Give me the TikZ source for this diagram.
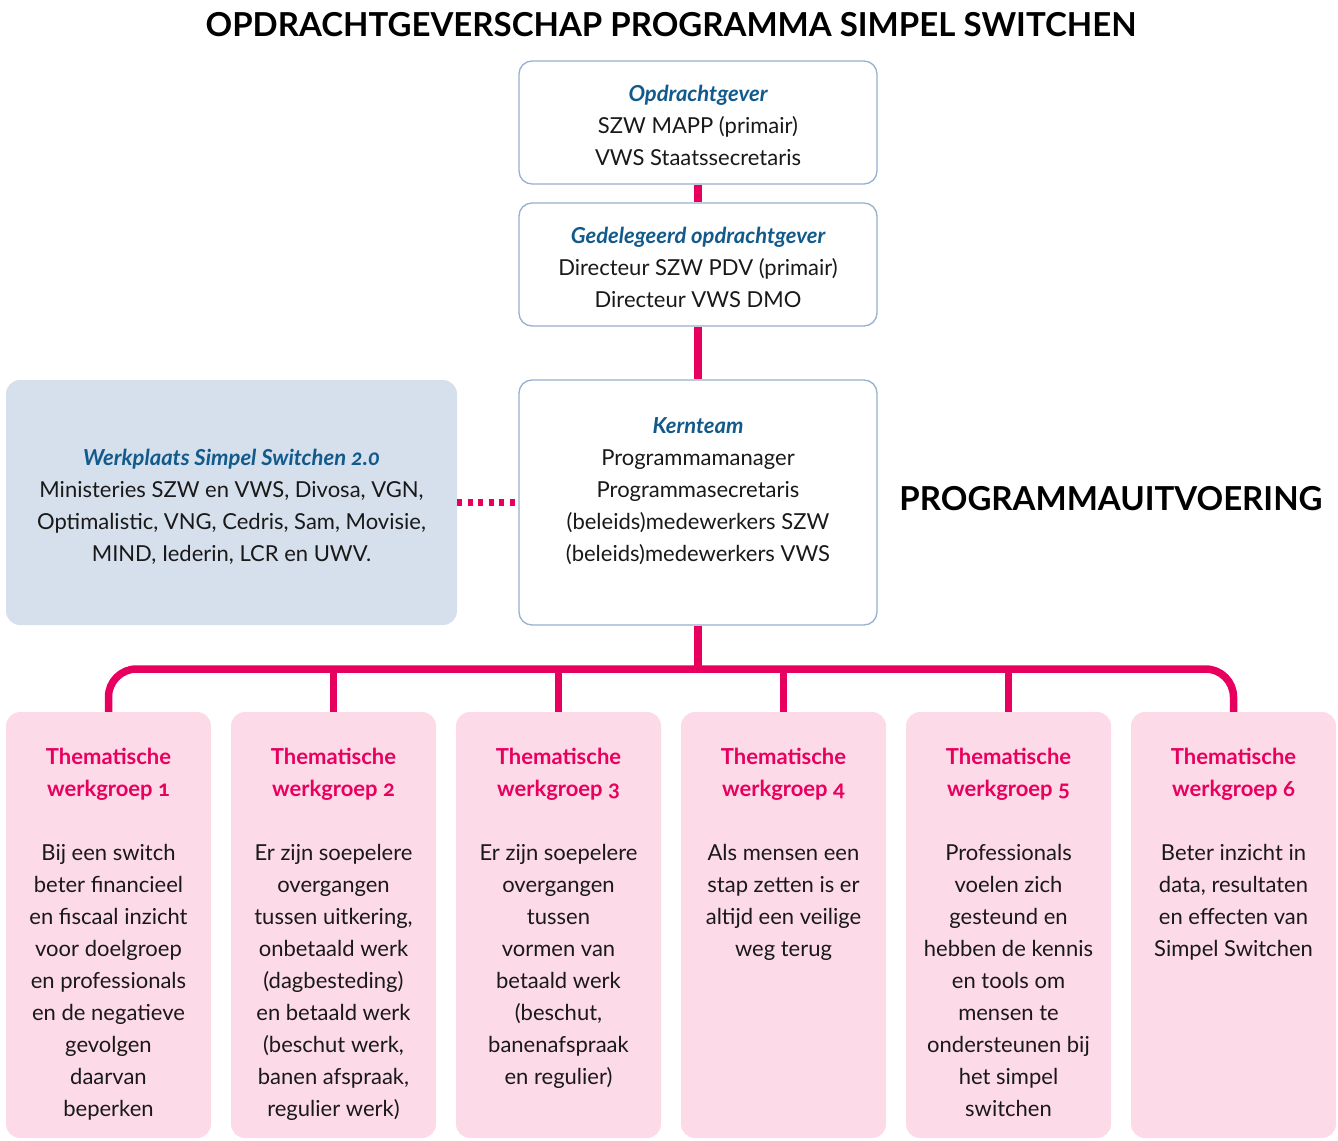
\documentclass[tikz,border=0pt]{standalone}
\usepackage{fontspec}
\setmainfont{Lato}[Numbers=OldStyle]
\definecolor{pinkc}{RGB}{232,0,94}
\definecolor{pinkfill}{RGB}{253,218,231}
\definecolor{bluec}{RGB}{18,90,140}
\definecolor{bordc}{RGB}{150,176,208}
\definecolor{werkfill}{RGB}{214,224,236}
\definecolor{txt}{RGB}{25,25,25}
\newcommand{\wgA}{\textcolor{pinkc}{\bfseries Thematische}}
\newcommand{\wgB}[1]{\textcolor{pinkc}{\bfseries werkgroep #1}}
\begin{document}
\begin{tikzpicture}[x=1pt,y=-1pt,
  wbox/.style={draw=bordc,line width=1.3pt,rounded corners=13pt,fill=white,inner sep=0pt,minimum width=358pt},
  gbox/.style={fill=werkfill,rounded corners=14pt,inner sep=0pt,minimum width=451pt,minimum height=245pt},
  pbox/.style={fill=pinkfill,rounded corners=14pt,inner sep=0pt,minimum width=205pt,minimum height=426pt},
  body/.style={align=center,inner sep=0pt,text=txt,font=\fontsize{22}{32}\selectfont},
  pinkline/.style={draw=pinkc,line width=7.5pt},
  title/.style={inner sep=0pt,text=black,font=\bfseries\fontsize{33}{40}\selectfont}]
\useasboundingbox (0,0) rectangle (1338,1140);
% title
\node[title] (tt) at (671,25) {OPDRACHTGEVERSCHAP PROGRAMMA SIMPEL SWITCHEN};
\node[title,font=\bfseries\fontsize{33}{40}\selectfont] (pu) at (1111,499) {PROGRAMMAUITVOERING};
% top boxes
\node[wbox,minimum height=123pt] (opd) at (698,122.5) {};
\node[wbox,minimum height=123pt] (gop) at (698,264.5) {};
\node[wbox,minimum height=245pt] (kern) at (698,502.5) {};
\node[gbox] (werk) at (231.5,502.5) {};
\node[body,anchor=north] (topd) at (698,85) {\textcolor{bluec}{\bfseries\itshape Opdrachtgever}\\SZW MAPP (primair)\\VWS Staatssecretaris};
\node[body,anchor=north] (tgop) at (698,227) {\textcolor{bluec}{\bfseries\itshape Gedelegeerd opdrachtgever}\\Directeur SZW PDV (primair)\\Directeur VWS DMO};
\node[body,anchor=north] (tkern) at (698,417) {\textcolor{bluec}{\bfseries\itshape Kernteam}\\Programmamanager\\Programmasecretaris\\(beleids)medewerkers SZW\\(beleids)medewerkers VWS};
\node[body,anchor=north] (twerk) at (231.5,449) {\textcolor{bluec}{\bfseries\itshape Werkplaats Simpel Switchen 2.0}\\Ministeries SZW en VWS, Divosa, VGN,\\Optimalistic, VNG, Cedris, Sam, Movisie,\\MIND, Iederin, LCR en UWV.};
% connectors top
\draw[pinkline] (opd.south) -- (gop.north);
\draw[pinkline] (gop.south) -- (kern.north);
\draw[pinkline,dash pattern=on 5pt off 5.5pt] (werk.east) -- (kern.west);
% workgroups
\node[pbox] (wg1) at (108.5,925) {};
\node[pbox] (wg2) at (333.5,925) {};
\node[pbox] (wg3) at (558.5,925) {};
\node[pbox] (wg4) at (783.5,925) {};
\node[pbox] (wg5) at (1008.5,925) {};
\node[pbox] (wg6) at (1233.5,925) {};
\coordinate (bus) at (698,669);
\draw[pinkline,rounded corners=28pt] (wg1.north) |- (bus) -| (wg6.north);
\draw[pinkline] (kern.south) -- (bus);
\draw[pinkline] (wg2.north) -- (wg2.north |- bus);
\draw[pinkline] (wg3.north) -- (wg3.north |- bus);
\draw[pinkline] (wg4.north) -- (wg4.north |- bus);
\draw[pinkline] (wg5.north) -- (wg5.north |- bus);
\node[body,anchor=north] (t1) at (108.5,748) {\wgA\\\wgB{1}\\\mbox{}\\Bij een switch\\beter financieel\\en fiscaal inzicht\\voor doelgroep\\en professionals\\en de negatieve\\gevolgen\\daarvan\\beperken};
\node[body,anchor=north] (t2) at (333.5,748) {\wgA\\\wgB{2}\\\mbox{}\\Er zijn soepelere\\overgangen\\tussen uitkering,\\onbetaald werk\\(dagbesteding)\\en betaald werk\\(beschut werk,\\banen afspraak,\\regulier werk)};
\node[body,anchor=north] (t3) at (558.5,748) {\wgA\\\wgB{3}\\\mbox{}\\Er zijn soepelere\\overgangen\\tussen\\vormen van\\betaald werk\\(beschut,\\banenafspraak\\en regulier)};
\node[body,anchor=north] (t4) at (783.5,748) {\wgA\\\wgB{4}\\\mbox{}\\Als mensen een\\stap zetten is er\\altijd een veilige\\weg terug};
\node[body,anchor=north] (t5) at (1008.5,748) {\wgA\\\wgB{5}\\\mbox{}\\Professionals\\voelen zich\\gesteund en\\hebben de kennis\\en tools om\\mensen te\\ondersteunen bij\\het simpel\\switchen};
\node[body,anchor=north] (t6) at (1233.5,748) {\wgA\\\wgB{6}\\\mbox{}\\Beter inzicht in\\data, resultaten\\en effecten van\\Simpel Switchen};
\end{tikzpicture}
\end{document}
